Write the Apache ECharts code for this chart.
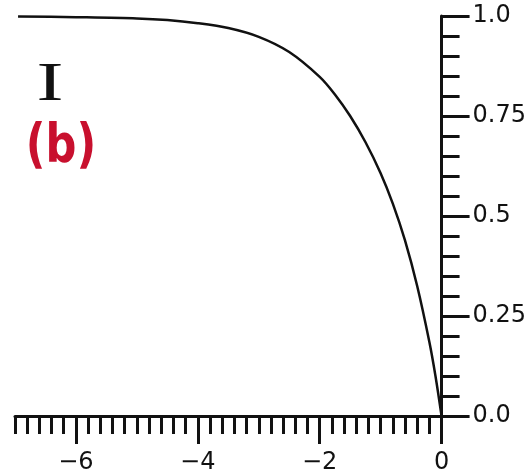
<!DOCTYPE html>
<html>
<head>
<meta charset="utf-8">
<script src="https://cdn.jsdelivr.net/npm/echarts@6/dist/echarts.min.js"></script>
<style>
html,body{margin:0;padding:0;background:#fff;}
#chart{width:529px;height:476px;}
</style>
</head>
<body>
<div id="chart"></div>
<script>
// Data
var xValues = [-6.95, -6, -5, -4.5, -4, -3.5, -3, -2.5, -2, -1.75, -1.5, -1.25, -1, -0.8, -0.6, -0.4, -0.2, -0.1, 0];
var yValues = [0.999, 0.997, 0.994, 0.99, 0.982, 0.97, 0.948, 0.91, 0.848, 0.804, 0.75, 0.685, 0.607, 0.531, 0.439, 0.325, 0.185, 0.1, 0];
var xMajorTicks = [-6, -4, -2, 0];
var xTickLabels = ['\u22126', '\u22124', '\u22122', '0'];
var yMajorTicks = [0, 0.25, 0.5, 0.75, 1];
var yTickLabels = ['0.0', '0.25', '0.5', '0.75', '1.0'];
var xMinorStep = 0.2;
var yMinorStep = 0.05;
var xMin = -7, xMax = 0, yMin = 0, yMax = 1;

var xMinorTicks = [];
for (var i = 0; i <= Math.round((xMax - xMin) / xMinorStep); i++) {
  xMinorTicks.push(Math.round((xMin + i * xMinorStep) * 100) / 100);
}
var yMinorTicks = [];
for (var j = 0; j <= Math.round((yMax - yMin) / yMinorStep); j++) {
  yMinorTicks.push(Math.round((yMin + j * yMinorStep) * 100) / 100);
}

var seriesData = xValues.map(function (x, k) { return [x, yValues[k]]; });

var ink = '#111';
var font = 'DejaVu Sans';

var chart = echarts.init(document.getElementById('chart'));
chart.setOption({
  animation: false,
  backgroundColor: '#fff',
  grid: { left: 15, right: 86, top: 16, bottom: 60, containLabel: false },
  xAxis: [
    {
      type: 'value', min: xMin, max: xMax, position: 'bottom',
      axisLine: { show: true, onZero: false, lineStyle: { color: ink, width: 3 } },
      axisTick: { show: true, customValues: xMajorTicks, length: 28, lineStyle: { color: ink, width: 3 } },
      axisLabel: {
        show: true, customValues: xMajorTicks, margin: 35, fontSize: 24, fontFamily: font, color: ink,
        formatter: function (v) { var idx = xMajorTicks.indexOf(v); return idx >= 0 ? xTickLabels[idx] : ''; }
      },
      splitLine: { show: false }
    },
    {
      type: 'value', min: xMin, max: xMax, position: 'bottom',
      axisLine: { show: false },
      axisTick: { show: true, customValues: xMinorTicks, length: 18, lineStyle: { color: ink, width: 3 } },
      axisLabel: { show: false, customValues: xMinorTicks },
      splitLine: { show: false }
    }
  ],
  yAxis: [
    {
      type: 'value', min: yMin, max: yMax, position: 'right',
      axisLine: { show: true, onZero: false, lineStyle: { color: ink, width: 3 } },
      axisTick: { show: true, customValues: yMajorTicks, length: 28, lineStyle: { color: ink, width: 3 } },
      axisLabel: {
        show: true, customValues: yMajorTicks, margin: 31, fontSize: 24, fontFamily: font, color: ink,
        formatter: function (v) { var idx = yMajorTicks.indexOf(v); return idx >= 0 ? yTickLabels[idx] : ''; }
      },
      splitLine: { show: false }
    },
    {
      type: 'value', min: yMin, max: yMax, position: 'right',
      axisLine: { show: false },
      axisTick: { show: true, customValues: yMinorTicks, length: 18, lineStyle: { color: ink, width: 3 } },
      axisLabel: { show: false, customValues: yMinorTicks },
      splitLine: { show: false }
    }
  ],
  series: [
    {
      type: 'line', xAxisIndex: 0, yAxisIndex: 0, data: seriesData,
      smooth: 0.3, showSymbol: false, symbol: 'none',
      lineStyle: { color: ink, width: 2.5 }
    }
  ],
  graphic: [
    {
      type: 'text', x: 50, y: 86, scaleX: 1.5,
      style: { text: 'I', x: 0, y: 0, align: 'center', verticalAlign: 'middle',
               font: '54px "Liberation Serif"', fill: ink }
    },
    {
      type: 'text', x: 61, y: 148, scaleX: 0.8,
      style: { text: '(b)', x: 0, y: 0, align: 'center', verticalAlign: 'middle',
               font: 'bold 54px "DejaVu Sans"', fill: '#c8102e' }
    }
  ]
});
</script>
</body>
</html>
